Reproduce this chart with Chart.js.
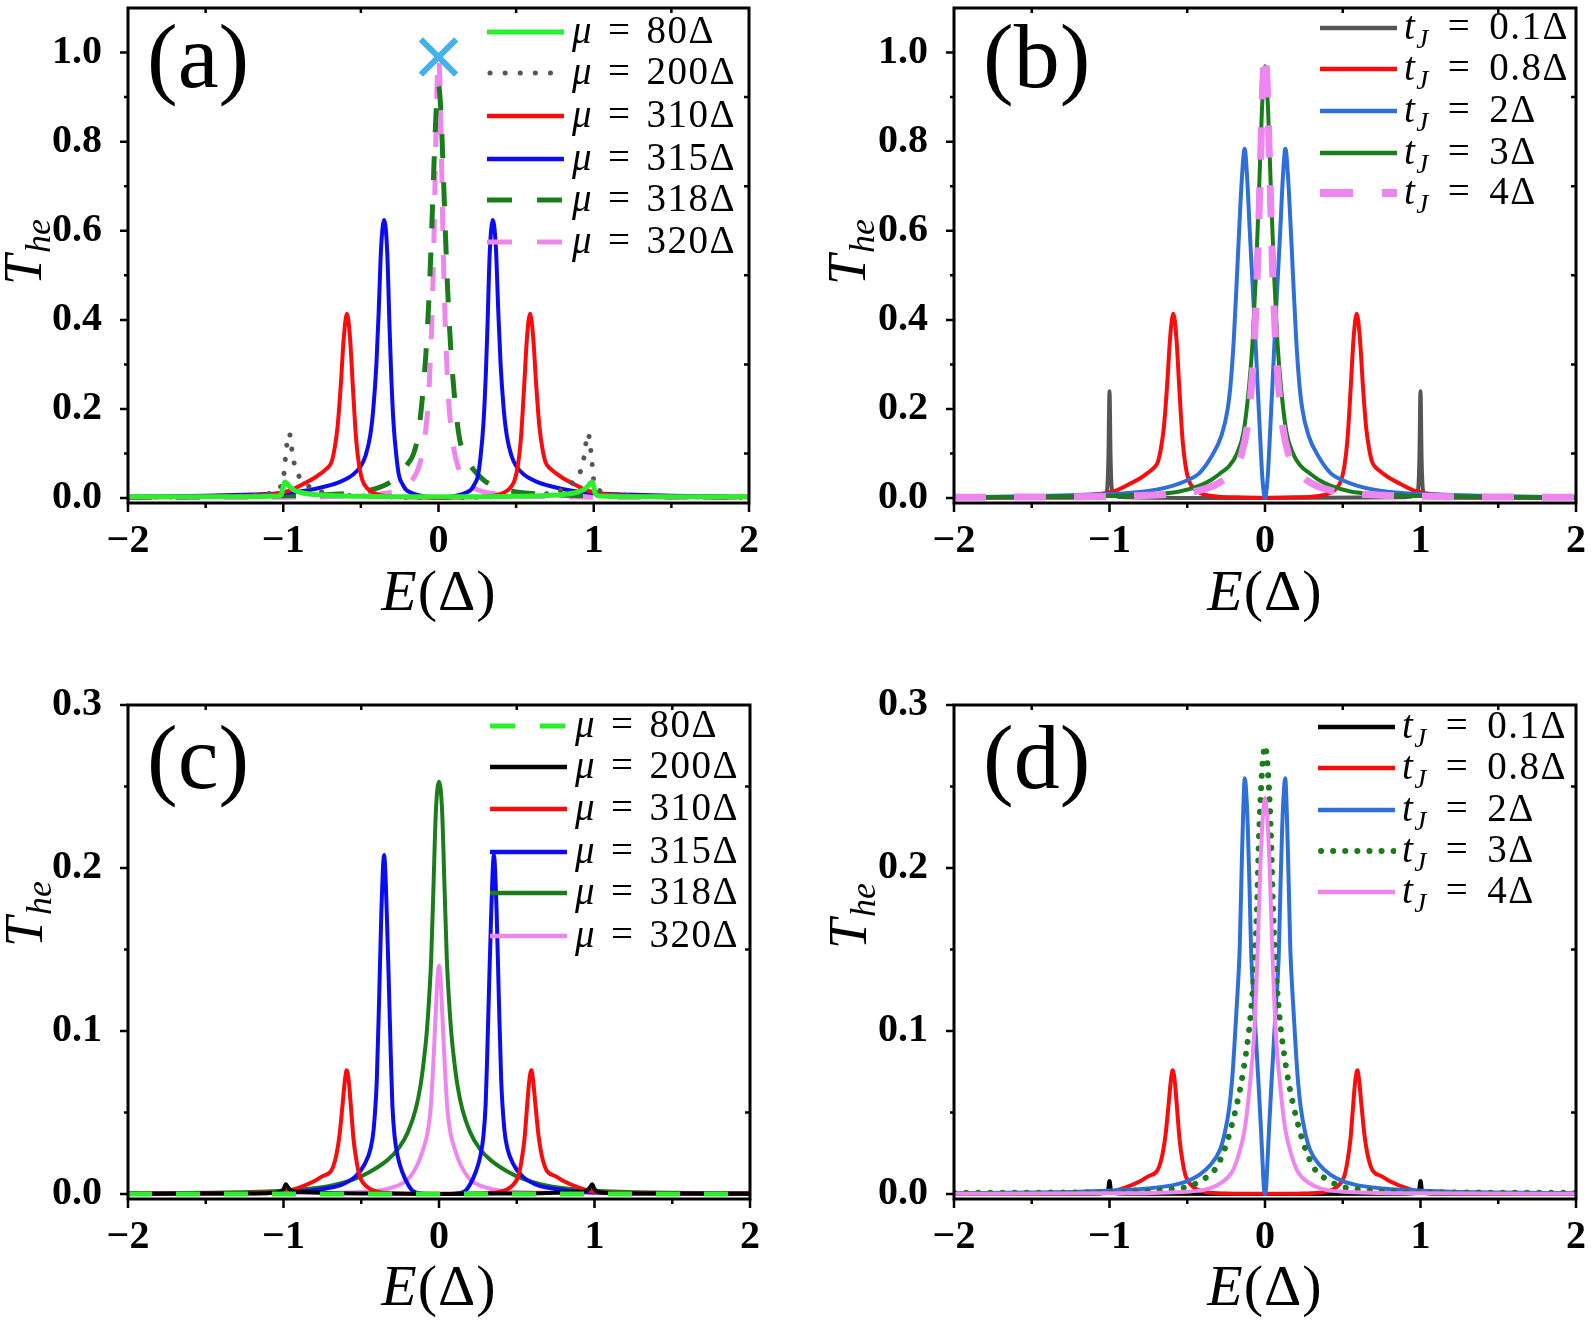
<!DOCTYPE html>
<html>
<head>
<meta charset="utf-8">
<title>T_he vs E</title>
<script src="https://cdn.jsdelivr.net/npm/chart.js@4.4.0/dist/chart.umd.min.js"></script>
<style>
  body { margin: 0; background: #fff; }
  #fig { position: relative; width: 1593px; height: 1327px; overflow: hidden;
         font-family: 'Liberation Serif', 'Times New Roman', serif; color: #000; }
  #fig canvas { position: absolute; }
  .lbl { position: absolute; white-space: nowrap; line-height: 1; }
  .panel { font-size: 92px; }
  .xtitle { font-size: 58px; letter-spacing: 1px; transform: translate(-50%, -50%); }
  .ytitle { font-size: 54px; transform: translate(-50%, -50%) rotate(-90deg); }
  .ytitle sub { font-size: 36px; vertical-align: -0.25em; margin-left: 2px; }
  .leg { font-size: 39px; letter-spacing: 1.5px; }
  .leg .eq { margin: 0 15px; }
  .leg.tj .eq { margin: 0 18px; }
  .leg sub { font-size: 27px; vertical-align: -0.35em; }
  .swatch { position: absolute; }
</style>
</head>
<body>
<div id="fig">
  <canvas id="chartA" width="797" height="660" style="left:0;top:0"></canvas>
  <canvas id="chartB" width="796" height="660" style="left:797px;top:0"></canvas>
  <canvas id="chartC" width="797" height="667" style="left:0;top:660px"></canvas>
  <canvas id="chartD" width="796" height="667" style="left:797px;top:660px"></canvas>
</div>
<script>
// tick values
const eTicks = [-2, -1, 0, 1, 2];
const eMinor = [-1.5, -0.5, 0.5, 1.5];
const tTicksTop = [0, 0.2, 0.4, 0.6, 0.8, 1.0];
const tMinorTop = [0.1, 0.3, 0.5, 0.7, 0.9];
const tTicksBot = [0, 0.1, 0.2, 0.3];
const tMinorBot = [0.05, 0.15, 0.25];

// (a) mu = 80, 200, 310, 315, 318, 320 Delta
const eA80 = [-2, -1.5, -1.2, -1.08, -1.03, -1.01, -1.0, -0.99, -0.98, -0.96, -0.93, -0.88, -0.8, -0.7, -0.5, -0.25, 0,
  0.25, 0.5, 0.7, 0.8, 0.88, 0.93, 0.96, 0.98, 0.99, 1.0, 1.01, 1.03, 1.08, 1.2, 1.5, 2];
const tA80 = [0.003, 0.003, 0.003, 0.004, 0.005, 0.01, 0.026, 0.036, 0.034, 0.026, 0.018, 0.012, 0.008, 0.006, 0.004, 0.003, 0.003,
  0.003, 0.004, 0.006, 0.008, 0.012, 0.018, 0.026, 0.034, 0.036, 0.026, 0.01, 0.005, 0.004, 0.003, 0.003, 0.003];

const eA200 = [-2, -1.5, -1.2, -1.1, -1.05, -1.02, -1.0, -0.99, -0.98, -0.97, -0.96, -0.95, -0.94, -0.92, -0.9, -0.87, -0.83, -0.79, -0.7, -0.5, -0.25, 0,
  0.25, 0.5, 0.7, 0.79, 0.83, 0.87, 0.9, 0.92, 0.94, 0.95, 0.96, 0.97, 0.98, 0.99, 1.0, 1.02, 1.05, 1.1, 1.2, 1.5, 2];
const tA200 = [0.002, 0.003, 0.006, 0.01, 0.014, 0.024, 0.04, 0.075, 0.11, 0.138, 0.145, 0.125, 0.097, 0.066, 0.05, 0.037, 0.025, 0.018, 0.01, 0.005, 0.002, 0.001,
  0.002, 0.005, 0.01, 0.018, 0.025, 0.037, 0.05, 0.066, 0.097, 0.125, 0.145, 0.138, 0.11, 0.075, 0.04, 0.024, 0.014, 0.01, 0.006, 0.003, 0.002];

const eA310 = [-2, -1.5, -1.2, -1.05, -0.95, -0.875, -0.8, -0.76, -0.72, -0.69, -0.67, -0.65, -0.63, -0.61, -0.59, -0.57, -0.55, -0.53, -0.51, -0.49, -0.46, -0.42, -0.38, -0.3, -0.2, 0,
  0.2, 0.3, 0.38, 0.42, 0.46, 0.49, 0.51, 0.53, 0.55, 0.57, 0.59, 0.61, 0.63, 0.65, 0.67, 0.69, 0.72, 0.76, 0.8, 0.875, 0.95, 1.05, 1.2, 1.5, 2];
const tA310 = [0.002, 0.003, 0.006, 0.01, 0.018, 0.031, 0.045, 0.055, 0.066, 0.08, 0.11, 0.16, 0.25, 0.36, 0.414, 0.36, 0.24, 0.13, 0.07, 0.04, 0.022, 0.012, 0.007, 0.003, 0.002, 0.001,
  0.002, 0.003, 0.007, 0.012, 0.022, 0.04, 0.07, 0.13, 0.24, 0.36, 0.414, 0.36, 0.25, 0.16, 0.11, 0.08, 0.066, 0.055, 0.045, 0.031, 0.018, 0.01, 0.006, 0.003, 0.002];

const eA315 = [-2, -1.5, -1.2, -1.0, -0.85, -0.73, -0.63, -0.55, -0.5, -0.47, -0.44, -0.42, -0.4, -0.385, -0.37, -0.35, -0.33, -0.315, -0.305, -0.29, -0.27, -0.254, -0.23, -0.21, -0.17, -0.12, -0.06, 0,
  0.06, 0.12, 0.17, 0.21, 0.23, 0.254, 0.27, 0.29, 0.305, 0.315, 0.33, 0.35, 0.37, 0.385, 0.4, 0.42, 0.44, 0.47, 0.5, 0.55, 0.63, 0.73, 0.85, 1.0, 1.2, 1.5, 2];
const tA315 = [0.003, 0.005, 0.008, 0.011, 0.017, 0.026, 0.037, 0.053, 0.072, 0.095, 0.14, 0.2, 0.3, 0.42, 0.56, 0.624, 0.55, 0.38, 0.28, 0.17, 0.09, 0.05, 0.03, 0.019, 0.011, 0.006, 0.002, 0,
  0.002, 0.006, 0.011, 0.019, 0.03, 0.05, 0.09, 0.17, 0.28, 0.38, 0.55, 0.624, 0.56, 0.42, 0.3, 0.2, 0.14, 0.095, 0.072, 0.053, 0.037, 0.026, 0.017, 0.011, 0.008, 0.005, 0.003];

const eA318 = [-2, -1.5, -1, -0.7, -0.5, -0.38, -0.3, -0.25, -0.2, -0.16, -0.13, -0.1, -0.08, -0.06, -0.045, -0.03, -0.015, 0,
  0.015, 0.03, 0.045, 0.06, 0.08, 0.1, 0.13, 0.16, 0.2, 0.25, 0.3, 0.38, 0.5, 0.7, 1, 1.5, 2];
const tA318 = [0.002, 0.003, 0.005, 0.008, 0.014, 0.024, 0.038, 0.054, 0.076, 0.1, 0.145, 0.24, 0.33, 0.46, 0.59, 0.74, 0.87, 0.926,
  0.87, 0.74, 0.59, 0.46, 0.33, 0.24, 0.145, 0.1, 0.076, 0.054, 0.038, 0.024, 0.014, 0.008, 0.005, 0.003, 0.002];

const eA320 = [-2, -1, -0.6, -0.4, -0.28, -0.22, -0.18, -0.14, -0.12, -0.1, -0.08, -0.065, -0.05, -0.04, -0.03, -0.02, -0.01, 0,
  0.01, 0.02, 0.03, 0.04, 0.05, 0.065, 0.08, 0.1, 0.12, 0.14, 0.18, 0.22, 0.28, 0.4, 0.6, 1, 2];
const tA320 = [0.001, 0.002, 0.004, 0.008, 0.015, 0.024, 0.036, 0.058, 0.077, 0.108, 0.16, 0.22, 0.33, 0.43, 0.57, 0.75, 0.92, 0.99,
  0.92, 0.75, 0.57, 0.43, 0.33, 0.22, 0.16, 0.108, 0.077, 0.058, 0.036, 0.024, 0.015, 0.008, 0.004, 0.002, 0.001];

const eAcross = [0];
const tAcross = [0.99];

// (b) tJ = 0.1, 0.8, 2, 3, 4 Delta
const eB01 = [-2, -1.1, -1.03, -1.015, -1.007, -1.0, -0.993, -0.985, -0.97, -0.9, 0, 0.9, 0.97, 0.985, 0.993, 1.0, 1.007, 1.015, 1.03, 1.1, 2];
const tB01 = [0, 0.001, 0.004, 0.02, 0.09, 0.24, 0.09, 0.02, 0.006, 0.002, 0, 0.002, 0.006, 0.02, 0.09, 0.24, 0.09, 0.02, 0.004, 0.001, 0];

const eB08 = eA310;   // same curve as mu = 310 Delta in (a)
const tB08 = tA310;

const eB2 = [-2, -1.5, -1.2, -0.9, -0.7, -0.59, -0.5, -0.425, -0.35, -0.28, -0.24, -0.22, -0.2, -0.18, -0.165, -0.15, -0.131, -0.115, -0.098, -0.08, -0.065, -0.05, -0.033, -0.018, -0.007, 0,
  0.007, 0.018, 0.033, 0.05, 0.065, 0.08, 0.098, 0.115, 0.131, 0.15, 0.165, 0.18, 0.2, 0.22, 0.24, 0.28, 0.35, 0.425, 0.5, 0.59, 0.7, 0.9, 1.2, 1.5, 2];
const tB2 = [0.002, 0.004, 0.007, 0.011, 0.019, 0.028, 0.04, 0.055, 0.09, 0.14, 0.2, 0.26, 0.36, 0.5, 0.61, 0.71, 0.784, 0.72, 0.6, 0.48, 0.38, 0.27, 0.15, 0.05, 0.01, 0,
  0.01, 0.05, 0.15, 0.27, 0.38, 0.48, 0.6, 0.72, 0.784, 0.71, 0.61, 0.5, 0.36, 0.26, 0.2, 0.14, 0.09, 0.055, 0.04, 0.028, 0.019, 0.011, 0.007, 0.004, 0.002];

const eB3 = [-2, -1.2, -0.88, -0.7, -0.55, -0.42, -0.35, -0.29, -0.23, -0.18, -0.137, -0.1, -0.08, -0.06, -0.04, -0.02, 0,
  0.02, 0.04, 0.06, 0.08, 0.1, 0.137, 0.18, 0.23, 0.29, 0.35, 0.42, 0.55, 0.7, 0.88, 1.2, 2];
const tB3 = [0.002, 0.004, 0.006, 0.009, 0.015, 0.028, 0.04, 0.055, 0.072, 0.1, 0.15, 0.26, 0.35, 0.49, 0.67, 0.87, 0.969,
  0.87, 0.67, 0.49, 0.35, 0.26, 0.15, 0.1, 0.072, 0.055, 0.04, 0.028, 0.015, 0.009, 0.006, 0.004, 0.002];

const eB4 = [-2, -1.2, -0.78, -0.6, -0.46, -0.3, -0.23, -0.19, -0.15, -0.114, -0.09, -0.07, -0.05, -0.03, -0.015, 0,
  0.015, 0.03, 0.05, 0.07, 0.09, 0.114, 0.15, 0.19, 0.23, 0.3, 0.46, 0.6, 0.78, 1.2, 2];
const tB4 = [0.002, 0.003, 0.006, 0.009, 0.014, 0.033, 0.052, 0.07, 0.1, 0.16, 0.24, 0.34, 0.5, 0.74, 0.92, 1.0,
  0.92, 0.74, 0.5, 0.34, 0.24, 0.16, 0.1, 0.07, 0.052, 0.033, 0.014, 0.009, 0.006, 0.003, 0.002];

// (c) mu = 80, 200, 310, 315, 318, 320 Delta
const eC80 = [-2, -1, 0, 1, 2];
const tC80 = [0, 0, 0, 0, 0];

const eC200 = [-2, -1.5, -1.1, -1.03, -1.0, -0.985, -0.97, -0.95, -0.9, -0.7, -0.4, 0,
  0.4, 0.7, 0.9, 0.95, 0.97, 0.985, 1.0, 1.03, 1.1, 1.5, 2];
const tC200 = [0.0002, 0.0003, 0.0006, 0.0012, 0.003, 0.006, 0.004, 0.0022, 0.0014, 0.0007, 0.0003, 0.0001,
  0.0003, 0.0007, 0.0014, 0.0022, 0.004, 0.006, 0.003, 0.0012, 0.0006, 0.0003, 0.0002];

const eC310 = [-2, -1.5, -1.2, -1.0, -0.9, -0.8, -0.75, -0.7, -0.68, -0.66, -0.64, -0.62, -0.605, -0.594, -0.58, -0.565, -0.55, -0.53, -0.51, -0.48, -0.44, -0.38, -0.25, 0,
  0.25, 0.38, 0.44, 0.48, 0.51, 0.53, 0.55, 0.565, 0.58, 0.594, 0.605, 0.62, 0.64, 0.66, 0.68, 0.7, 0.75, 0.8, 0.9, 1.0, 1.2, 1.5, 2];
const tC310 = [0.0003, 0.0004, 0.0007, 0.0015, 0.004, 0.008, 0.011, 0.0135, 0.017, 0.024, 0.036, 0.055, 0.07, 0.0759, 0.069, 0.052, 0.034, 0.02, 0.011, 0.006, 0.003, 0.0012, 0.0004, 0.0002,
  0.0004, 0.0012, 0.003, 0.006, 0.011, 0.02, 0.034, 0.052, 0.069, 0.0759, 0.07, 0.055, 0.036, 0.024, 0.017, 0.0135, 0.011, 0.008, 0.004, 0.0015, 0.0007, 0.0004, 0.0003];

const eC315 = [-2, -1.5, -1.0, -0.85, -0.73, -0.62, -0.535, -0.48, -0.44, -0.42, -0.4, -0.385, -0.37, -0.353, -0.335, -0.32, -0.31, -0.3, -0.285, -0.265, -0.238, -0.2, -0.17, -0.1, 0,
  0.1, 0.17, 0.2, 0.238, 0.265, 0.285, 0.3, 0.31, 0.32, 0.335, 0.353, 0.37, 0.385, 0.4, 0.42, 0.44, 0.48, 0.535, 0.62, 0.73, 0.85, 1.0, 1.5, 2];
const tC315 = [0.0003, 0.0005, 0.001, 0.002, 0.0034, 0.006, 0.011, 0.018, 0.028, 0.04, 0.07, 0.12, 0.175, 0.208, 0.17, 0.12, 0.085, 0.055, 0.035, 0.023, 0.014, 0.006, 0.002, 0.0003, 0,
  0.0003, 0.002, 0.006, 0.014, 0.023, 0.035, 0.055, 0.085, 0.12, 0.17, 0.208, 0.175, 0.12, 0.07, 0.04, 0.028, 0.018, 0.011, 0.006, 0.0034, 0.002, 0.001, 0.0005, 0.0003];

const eC318 = [-2, -1.5, -1, -0.73, -0.55, -0.44, -0.33, -0.26, -0.2, -0.15, -0.12, -0.1, -0.08, -0.065, -0.05, -0.035, -0.02, 0,
  0.02, 0.035, 0.05, 0.065, 0.08, 0.1, 0.12, 0.15, 0.2, 0.26, 0.33, 0.44, 0.55, 0.73, 1, 1.5, 2];
const tC318 = [0.0005, 0.0008, 0.002, 0.0045, 0.009, 0.0139, 0.021, 0.028, 0.038, 0.052, 0.066, 0.08, 0.098, 0.118, 0.145, 0.19, 0.235, 0.253,
  0.235, 0.19, 0.145, 0.118, 0.098, 0.08, 0.066, 0.052, 0.038, 0.028, 0.021, 0.0139, 0.009, 0.0045, 0.002, 0.0008, 0.0005];

const eC320 = [-2, -0.7, -0.4, -0.27, -0.2, -0.139, -0.1, -0.075, -0.056, -0.042, -0.03, -0.02, -0.01, 0,
  0.01, 0.02, 0.03, 0.042, 0.056, 0.075, 0.1, 0.139, 0.2, 0.27, 0.4, 0.7, 2];
const tC320 = [0.0002, 0.0008, 0.002, 0.005, 0.009, 0.018, 0.028, 0.037, 0.05, 0.07, 0.093, 0.113, 0.132, 0.14,
  0.132, 0.113, 0.093, 0.07, 0.05, 0.037, 0.028, 0.018, 0.009, 0.005, 0.002, 0.0008, 0.0002];

// (d) tJ = 0.1, 0.8, 2, 3, 4 Delta
const eD01 = [-2, -1.1, -1.03, -1.01, -1.0, -0.99, -0.97, -0.9, 0, 0.9, 0.97, 0.99, 1.0, 1.01, 1.03, 1.1, 2];
const tD01 = [0, 0.0002, 0.0006, 0.002, 0.008, 0.002, 0.0006, 0.0002, 0, 0.0002, 0.0006, 0.002, 0.008, 0.002, 0.0006, 0.0002, 0];

const eD08 = eC310;   // same curve as mu = 310 Delta in (c)
const tD08 = tC310;

const eD2 = [-2, -1.5, -1.2, -0.92, -0.75, -0.59, -0.5, -0.42, -0.35, -0.29, -0.26, -0.23, -0.21, -0.196, -0.18, -0.163, -0.15, -0.14, -0.13, -0.12, -0.11, -0.1, -0.088, -0.072, -0.056, -0.04, -0.026, -0.015, -0.007, 0,
  0.007, 0.015, 0.026, 0.04, 0.056, 0.072, 0.088, 0.1, 0.11, 0.12, 0.13, 0.14, 0.15, 0.163, 0.18, 0.196, 0.21, 0.23, 0.26, 0.29, 0.35, 0.42, 0.5, 0.59, 0.75, 0.92, 1.2, 1.5, 2];
const tD2 = [0.0005, 0.001, 0.0015, 0.0025, 0.0035, 0.0055, 0.008, 0.012, 0.018, 0.027, 0.037, 0.053, 0.072, 0.092, 0.118, 0.15, 0.2, 0.235, 0.255, 0.245, 0.223, 0.19, 0.145, 0.118, 0.092, 0.065, 0.04, 0.018, 0.0034, 0,
  0.0034, 0.018, 0.04, 0.065, 0.092, 0.118, 0.145, 0.19, 0.223, 0.245, 0.255, 0.235, 0.2, 0.15, 0.118, 0.092, 0.072, 0.053, 0.037, 0.027, 0.018, 0.012, 0.008, 0.0055, 0.0035, 0.0025, 0.0015, 0.001, 0.0005];

const eD3 = [-2, -1.2, -0.8, -0.6, -0.48, -0.4, -0.33, -0.27, -0.22, -0.157, -0.12, -0.09, -0.065, -0.05, -0.04, -0.02, 0,
  0.02, 0.04, 0.05, 0.065, 0.09, 0.12, 0.157, 0.22, 0.27, 0.33, 0.4, 0.48, 0.6, 0.8, 1.2, 2];
const tD3 = [0.0008, 0.001, 0.0015, 0.003, 0.005, 0.009, 0.014, 0.025, 0.04, 0.066, 0.088, 0.112, 0.145, 0.18, 0.215, 0.258, 0.275,
  0.258, 0.215, 0.18, 0.145, 0.112, 0.088, 0.066, 0.04, 0.025, 0.014, 0.009, 0.005, 0.003, 0.0015, 0.001, 0.0008];

const eD4 = [-2, -1, -0.5, -0.36, -0.28, -0.21, -0.17, -0.13, -0.098, -0.07, -0.049, -0.03, -0.015, 0,
  0.015, 0.03, 0.049, 0.07, 0.098, 0.13, 0.17, 0.21, 0.28, 0.36, 0.5, 1, 2];
const tD4 = [0.0002, 0.0005, 0.0015, 0.0034, 0.007, 0.0139, 0.024, 0.04, 0.066, 0.098, 0.145, 0.2, 0.23, 0.243,
  0.23, 0.2, 0.145, 0.098, 0.066, 0.04, 0.024, 0.0139, 0.007, 0.0034, 0.0015, 0.0005, 0.0002];

const muLabels = ['80Δ', '200Δ', '310Δ', '315Δ', '318Δ', '320Δ'];
const tjLabels = ['0.1Δ', '0.8Δ', '2Δ', '3Δ', '4Δ'];

// colours
const LIME = '#2cee2c', GRAY = '#555555', RED = '#fa0c0c', BLUE = '#0c0cf2',
      DGREEN = '#1a7c1a', PINK = '#ef86ef', BLUE2 = '#2e6fd8', BLACK = '#000000', CROSS = '#43b1ec';

const fig = document.getElementById('fig');
const tickFont = { family: '"Liberation Serif"', weight: 'bold', size: 40 };

function pts(xs, ys) {
    return xs.map((x, i) => ({ x: x, y: ys[i] }));
}

function line(xs, ys, color, width, dash, extra) {
    return Object.assign({
        data: pts(xs, ys),
        borderColor: color,
        borderWidth: width,
        borderDash: dash || [],
        pointRadius: 0,
        fill: false,
        cubicInterpolationMode: 'monotone'
    }, extra || {});
}

// box frame + ticks (major outward on left/bottom, minor inward on top/right)
const frameTicks = {
    id: 'frameTicks',
    afterDraw(chart, args, opts) {
        const { ctx, chartArea: a } = chart;
        const x = chart.scales.x, y = chart.scales.y;
        ctx.save();
        ctx.strokeStyle = '#000';
        ctx.lineWidth = 3;
        ctx.strokeRect(a.left, a.top, a.right - a.left, a.bottom - a.top);
        ctx.lineWidth = 2.5;
        ctx.beginPath();
        eTicks.forEach(v => {
            const p = x.getPixelForValue(v);
            ctx.moveTo(p, a.bottom); ctx.lineTo(p, a.bottom + 9);
        });
        eMinor.forEach(v => {
            const p = x.getPixelForValue(v);
            ctx.moveTo(p, a.bottom); ctx.lineTo(p, a.bottom + 5);
            ctx.moveTo(p, a.top); ctx.lineTo(p, a.top + 5);
        });
        opts.major.forEach(v => {
            const p = y.getPixelForValue(v);
            ctx.moveTo(a.left, p); ctx.lineTo(a.left - 8, p);
        });
        opts.minor.forEach(v => {
            const p = y.getPixelForValue(v);
            ctx.moveTo(a.left, p); ctx.lineTo(a.left - 4, p);
            ctx.moveTo(a.right, p); ctx.lineTo(a.right - 5, p);
        });
        ctx.stroke();
        ctx.restore();
    }
};

function makeChart(id, geo, yMin, yMax, yTicks, yMinor, datasets) {
    return new Chart(document.getElementById(id), {
        type: 'line',
        data: { datasets: datasets },
        plugins: [frameTicks],
        options: {
            responsive: false,
            animation: false,
            parsing: false,
            layout: { autoPadding: false, padding: { left: 0, top: geo.top, right: geo.right, bottom: 0 } },
            plugins: {
                legend: { display: false },
                tooltip: { enabled: false },
                frameTicks: { major: yTicks, minor: yMinor }
            },
            scales: {
                x: {
                    type: 'linear', min: -2, max: 2,
                    afterBuildTicks: s => { s.ticks = eTicks.map(v => ({ value: v })); },
                    afterFit: s => { s.height = geo.xh; s.paddingLeft = 0; s.paddingRight = 0; },
                    grid: { display: false },
                    border: { display: false },
                    ticks: {
                        autoSkip: false, maxRotation: 0, padding: 7, color: '#000', font: tickFont,
                        callback: v => (v < 0 ? '\u2212' + Math.abs(v) : String(v))
                    }
                },
                y: {
                    type: 'linear', min: yMin, max: yMax,
                    afterBuildTicks: s => { s.ticks = yTicks.map(v => ({ value: v })); },
                    afterFit: s => { s.width = geo.yw; s.paddingTop = 0; s.paddingBottom = 0; },
                    grid: { display: false },
                    border: { display: false },
                    ticks: {
                        autoSkip: false, padding: 18, color: '#000', font: tickFont,
                        callback: v => v.toFixed(1)
                    }
                }
            }
        }
    });
}

function drawCharts() {
    // (a)
    makeChart('chartA', { top: 8, right: 48, yw: 128, xh: 157 }, -0.011, 1.1, tTicksTop, tMinorTop, [
        line(eA80, tA80, LIME, 5),
        line(eA200, tA200, GRAY, 5, [0.1, 14], { borderCapStyle: 'round' }),
        line(eA310, tA310, RED, 4),
        line(eA315, tA315, BLUE, 4),
        line(eA318, tA318, DGREEN, 5, [24, 24]),
        line(eA320, tA320, PINK, 5, [24, 24]),
        {
            data: pts(eAcross, tAcross), showLine: false, order: -1,
            pointStyle: 'crossRot', pointRadius: 25, pointBorderWidth: 6,
            pointBorderColor: CROSS, pointBackgroundColor: CROSS
        }
    ]);

    // (b)
    makeChart('chartB', { top: 8, right: 17, yw: 157, xh: 157 }, -0.011, 1.1, tTicksTop, tMinorTop, [
        line(eB01, tB01, GRAY, 4, null, { order: 0 }),
        line(eB08, tB08, RED, 4, null, { order: -1 }),
        line(eB2, tB2, BLUE2, 4, null, { order: -2 }),
        line(eB3, tB3, DGREEN, 4, null, { order: -3 }),
        line(eB4, tB4, PINK, 7, [32, 28], { order: -4 })
    ]);

    // (c)
    makeChart('chartC', { top: 45, right: 47, yw: 128, xh: 128 }, -0.003, 0.3, tTicksBot, tMinorBot, [
        line(eC80, tC80, LIME, 5, [24, 24]),
        line(eC200, tC200, BLACK, 4),
        line(eC310, tC310, RED, 4),
        line(eC315, tC315, BLUE, 4),
        line(eC318, tC318, DGREEN, 4),
        line(eC320, tC320, PINK, 4)
    ]);

    // (d)
    makeChart('chartD', { top: 45, right: 17, yw: 157, xh: 128 }, -0.003, 0.3, tTicksBot, tMinorBot, [
        line(eD01, tD01, BLACK, 4, null, { order: 0 }),
        line(eD08, tD08, RED, 4, null, { order: -1 }),
        line(eD2, tD2, BLUE2, 4, null, { order: -2 }),
        line(eD3, tD3, DGREEN, 6, [0.1, 12], { order: -3, borderCapStyle: 'round' }),
        line(eD4, tD4, PINK, 4, null, { order: -4 })
    ]);
}

// ---- text overlays ----
function addText(cls, html, left, top) {
    const d = document.createElement('div');
    d.className = 'lbl ' + cls;
    d.innerHTML = html;
    d.style.left = left + 'px';
    d.style.top = top + 'px';
    fig.appendChild(d);
}

function addLegend(x0, textX, rows, items, cls) {
    items.forEach((it, i) => {
        const y = rows[i];
        const x1 = it.cap === 'round' ? 3 : 0;
        const s = document.createElement('div');
        s.className = 'swatch';
        s.style.left = x0 + 'px';
        s.style.top = (y - 10) + 'px';
        s.innerHTML = '<svg width="78" height="20"><line x1="' + x1 + '" y1="10" x2="77" y2="10" stroke="' + it.color +
            '" stroke-width="' + it.w + '" stroke-dasharray="' + (it.dash || 'none') +
            '" stroke-linecap="' + (it.cap || 'butt') + '"/></svg>';
        fig.appendChild(s);
        addText('leg ' + cls, it.label, textX, y + 11 - 0.8375 * 39);
    });
}

const muHtml = muLabels.map(l => '<i>μ</i><span class="eq">=</span>' + l);
const tjHtml = tjLabels.map(l => '<i>t</i><sub><i>J</i></sub><span class="eq">=</span>' + l);

addLegend(487, 572, [32, 73, 116, 159, 200, 242], [
    { color: LIME, w: 5, label: muHtml[0] },
    { color: GRAY, w: 5, dash: '0.1 15', cap: 'round', label: muHtml[1] },
    { color: RED, w: 4.5, label: muHtml[2] },
    { color: BLUE, w: 4.5, label: muHtml[3] },
    { color: DGREEN, w: 5, dash: '25 25', label: muHtml[4] },
    { color: PINK, w: 5, dash: '25 25', label: muHtml[5] }
], 'mu');
addLegend(1320, 1404, [28, 69, 111, 153, 193], [
    { color: GRAY, w: 4.5, label: tjHtml[0] },
    { color: RED, w: 4.5, label: tjHtml[1] },
    { color: BLUE2, w: 4.5, label: tjHtml[2] },
    { color: DGREEN, w: 4.5, label: tjHtml[3] },
    { color: PINK, w: 8, dash: '33 29', label: tjHtml[4] }
], 'tj');
addLegend(490, 575, [726, 767, 809, 852, 893, 936], [
    { color: LIME, w: 5, dash: '25 25', label: muHtml[0] },
    { color: BLACK, w: 4.5, label: muHtml[1] },
    { color: RED, w: 4.5, label: muHtml[2] },
    { color: BLUE, w: 4.5, label: muHtml[3] },
    { color: DGREEN, w: 4.5, label: muHtml[4] },
    { color: PINK, w: 4.5, label: muHtml[5] }
], 'mu');
addLegend(1318, 1402, [727, 768, 810, 851, 892], [
    { color: BLACK, w: 4.5, label: tjHtml[0] },
    { color: RED, w: 4.5, label: tjHtml[1] },
    { color: BLUE2, w: 4.5, label: tjHtml[2] },
    { color: DGREEN, w: 6, dash: '0.1 12', cap: 'round', label: tjHtml[3] },
    { color: PINK, w: 4.5, label: tjHtml[4] }
], 'tj');

// panel letters
addText('panel', '(a)', 147, 10);
addText('panel', '(b)', 983, 10);
addText('panel', '(c)', 147, 711);
addText('panel', '(d)', 983, 711);

// axis titles
const xTitle = '<i>E</i>(Δ)';
const yTitle = '<i>T</i><sub><i>he</i></sub>';
addText('xtitle', xTitle, 439, 591);
addText('xtitle', xTitle, 1265, 591);
addText('xtitle', xTitle, 439, 1286);
addText('xtitle', xTitle, 1265, 1286);
addText('ytitle', yTitle, 26, 252);
addText('ytitle', yTitle, 850, 252);
addText('ytitle', yTitle, 27, 914);
addText('ytitle', yTitle, 851, 916);

// canvas text needs the serif face loaded before drawing
Promise.all([
    document.fonts.load('bold 40px "Liberation Serif"'),
    document.fonts.load('40px "Liberation Serif"')
]).then(drawCharts, drawCharts);
</script>
</body>
</html>
